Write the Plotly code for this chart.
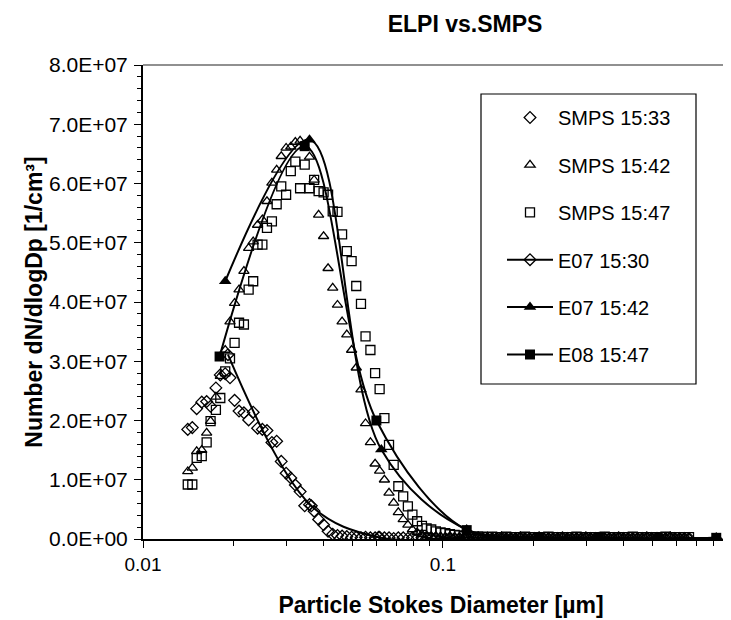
import plotly.graph_objects as go

# SMPS channel midpoint diameters [um]
smps_dp = [
    0.0141, 0.0146, 0.0151, 0.0157, 0.0163, 0.0168, 0.0175, 0.0181, 0.0188, 0.0195,
    0.0202, 0.0209, 0.0217, 0.0225, 0.0233, 0.0241, 0.0250, 0.0259, 0.0269, 0.0279,
    0.0289, 0.0300, 0.0311, 0.0322, 0.0334, 0.0346, 0.0359, 0.0372, 0.0385, 0.0400,
    0.0414, 0.0429, 0.0445, 0.0461, 0.0478, 0.0496, 0.0514, 0.0533, 0.0552, 0.0573,
    0.0594, 0.0615, 0.0638, 0.0661, 0.0685, 0.0710, 0.0737, 0.0764, 0.0791, 0.0820,
    0.0851, 0.0882, 0.0914, 0.0947, 0.0982, 0.1018, 0.1055, 0.1094, 0.1134, 0.1176,
    0.1219, 0.1263, 0.1310, 0.1358, 0.1407, 0.1459, 0.1512, 0.1568, 0.1625, 0.1685,
    0.1747, 0.1811, 0.1877, 0.1946, 0.2017, 0.2091, 0.2167, 0.2247, 0.2329, 0.2414,
    0.2503, 0.2595, 0.2690, 0.2788, 0.2890, 0.2996, 0.3106, 0.3220, 0.3338, 0.3460,
    0.3587, 0.3718, 0.3854, 0.3995, 0.4142, 0.4294, 0.4451, 0.4614, 0.4783, 0.4958,
    0.5140, 0.5328, 0.5523, 0.5725, 0.5935, 0.6153, 0.6378, 0.6612,
]

# SMPS values in units of 1E7 /cm3
smps_1533 = [
    1.85, 1.88, 2.20, 2.31, 2.32, 2.24, 2.55, 2.77, 2.79, 2.72,
    2.34, 2.16, 2.13, 2.01, 2.14, 1.87, 1.85, 1.83, 1.63, 1.65,
    1.31, 1.11, 1.03, 0.91, 0.80, 0.56, 0.58, 0.47, 0.33, 0.24,
    0.13, 0.08, 0.06, 0.05, 0.04, 0.03, 0.03, 0.02, 0.03, 0.02,
    0.02, 0.03, 0.02, 0.02, 0.01, 0.02, 0.02, 0.01, 0.02, 0.01,
    0.02, 0.01, 0.01, 0.02, 0.01, 0.01, 0.02, 0.01, 0.01, 0.01,
    0.01, 0.01, 0.02, 0.01, 0.01, 0.01, 0.01, 0.02, 0.01, 0.01,
    0.01, 0.02, 0.01, 0.01, 0.01, 0.02, 0.01, 0.01, 0.01, 0.01,
    0.02, 0.01, 0.01, 0.01, 0.01, 0.02, 0.01, 0.01, 0.01, 0.01,
    0.01, 0.01, 0.02, 0.01, 0.01, 0.01, 0.01, 0.01, 0.02, 0.01,
    0.01, 0.01, 0.01, 0.02, 0.01, 0.01, 0.01, 0.01,
]
smps_1542 = [
    1.14, 1.20, 1.48, 1.50, 1.79, 1.99, 2.40, 2.75, 3.19, 3.67,
    3.98, 4.21, 4.52, 4.91, 5.02, 5.30, 5.39, 5.70, 6.01, 6.23,
    6.46, 6.60, 6.62, 6.70, 6.72, 6.62, 6.45, 6.06, 5.47, 5.11,
    4.57, 4.24, 3.95, 3.67, 3.45, 3.19, 2.89, 2.52, 1.95, 1.63,
    1.27, 1.15, 1.00, 0.78, 0.61, 0.45, 0.33, 0.24, 0.16, 0.11,
    0.08, 0.06, 0.05, 0.04, 0.04, 0.03, 0.03, 0.03, 0.02, 0.03,
    0.02, 0.02, 0.03, 0.02, 0.02, 0.02, 0.03, 0.02, 0.02, 0.02,
    0.02, 0.03, 0.02, 0.02, 0.02, 0.02, 0.03, 0.02, 0.02, 0.02,
    0.03, 0.02, 0.02, 0.02, 0.02, 0.03, 0.02, 0.02, 0.02, 0.02,
    0.02, 0.02, 0.03, 0.02, 0.02, 0.02, 0.02, 0.02, 0.03, 0.02,
    0.02, 0.02, 0.02, 0.03, 0.02, 0.02, 0.02, 0.02,
]
smps_1547 = [
    0.92, 0.92, 1.37, 1.40, 1.63, 1.99, 2.18, 2.38, 2.83, 3.05,
    3.31, 3.65, 3.62, 4.21, 4.35, 4.97, 4.97, 5.25, 5.36, 5.65,
    5.95, 5.81, 6.21, 6.37, 5.92, 6.32, 5.92, 6.06, 5.87, 5.85,
    5.81, 5.53, 5.52, 5.14, 4.86, 4.69, 4.27, 3.97, 3.42, 3.19,
    2.80, 2.53, 2.04, 1.59, 1.25, 0.89, 0.72, 0.55, 0.41, 0.30,
    0.22, 0.18, 0.16, 0.13, 0.11, 0.10, 0.08, 0.07, 0.06, 0.05,
    0.05, 0.04, 0.04, 0.04, 0.03, 0.04, 0.03, 0.03, 0.04, 0.03,
    0.03, 0.03, 0.04, 0.03, 0.03, 0.03, 0.03, 0.04, 0.03, 0.03,
    0.03, 0.03, 0.03, 0.04, 0.03, 0.03, 0.03, 0.03, 0.03, 0.04,
    0.03, 0.03, 0.03, 0.03, 0.03, 0.04, 0.03, 0.03, 0.03, 0.03,
    0.03, 0.03, 0.04, 0.03, 0.03, 0.03, 0.03, 0.03,
]

# ELPI stage Stokes diameters [um] and values (1E7 /cm3)
elpi_dp_1530 = [0.0192, 0.0364, 0.0610, 0.1200, 0.2100, 0.3300, 0.5200, 0.8150]
elpi_1530 = [3.11, 0.56, 0.03, 0.02, 0.01, 0.01, 0.01, 0.00]
elpi_dp_1542 = [0.0188, 0.0359, 0.0623, 0.1200, 0.2100, 0.3300, 0.5200, 0.8150]
elpi_1542 = [4.35, 6.74, 1.51, 0.16, 0.03, 0.02, 0.01, 0.02]
elpi_dp_1547 = [0.0180, 0.0346, 0.0600, 0.1200, 0.2100, 0.3300, 0.5200, 0.8150]
elpi_1547 = [3.08, 6.63, 2.00, 0.15, 0.03, 0.02, 0.01, 0.02]

scale = 1e7
y_tickvals = [0, 1e7, 2e7, 3e7, 4e7, 5e7, 6e7, 7e7, 8e7]
y_ticktext = ["0.0E+00", "1.0E+07", "2.0E+07", "3.0E+07", "4.0E+07",
              "5.0E+07", "6.0E+07", "7.0E+07", "8.0E+07"]
x_tickvals = [0.01, 0.1, 1]
x_ticktext = ["0.01", "0.1", "1"]
x_minor = [0.02, 0.03, 0.04, 0.05, 0.06, 0.07, 0.08, 0.09,
           0.2, 0.3, 0.4, 0.5, 0.6, 0.7, 0.8, 0.9]

FONT = "Liberation Sans, Arial, sans-serif"
fig = go.Figure()

def sc(vals):
    return [v * scale for v in vals]

smps_marker = dict(color="black", size=9, line=dict(color="black", width=1.3))
fig.add_trace(go.Scatter(x=smps_dp, y=sc(smps_1533), mode="markers", name="SMPS 15:33",
                         legendgroup="a",
                         marker=dict(symbol="diamond-open", **smps_marker)))
fig.add_trace(go.Scatter(x=smps_dp, y=sc(smps_1542), mode="markers", name="SMPS 15:42",
                         legendgroup="b",
                         marker=dict(symbol="triangle-up-open", **smps_marker)))
fig.add_trace(go.Scatter(x=smps_dp, y=sc(smps_1547), mode="markers", name="SMPS 15:47",
                         legendgroup="c",
                         marker=dict(symbol="square-open", **smps_marker)))

fig.add_trace(go.Scatter(x=elpi_dp_1530, y=sc(elpi_1530), mode="lines+markers", name="E07 15:30",
                         legendgroup="d",
                         line=dict(color="black", width=2, shape="spline", smoothing=1),
                         marker=dict(symbol="diamond-open", size=9, color="black",
                                     line=dict(color="black", width=1.3))))
fig.add_trace(go.Scatter(x=elpi_dp_1542, y=sc(elpi_1542), mode="lines+markers", name="E07 15:42",
                         legendgroup="e",
                         line=dict(color="black", width=2, shape="spline", smoothing=1),
                         marker=dict(symbol="triangle-up", size=11, color="black")))
fig.add_trace(go.Scatter(x=elpi_dp_1547, y=sc(elpi_1547), mode="lines+markers", name="E08 15:47",
                         legendgroup="f",
                         line=dict(color="black", width=2, shape="spline", smoothing=1),
                         marker=dict(symbol="square", size=10, color="black")))

L, R, T, B = 135, 0, 57, 89
W, H = 731, 620
pw, ph = W - L - R, H - T - B

def px(x):
    return (x - L) / pw

def py(y):
    return (H - B - y) / ph

fig.update_layout(
    width=W, height=H,
    margin=dict(l=L, r=R, t=T, b=B, autoexpand=False),
    paper_bgcolor="white", plot_bgcolor="white",
    font=dict(family=FONT, color="black", size=19),
    title=dict(text="ELPI vs.SMPS", x=457 / W, xref="container", xanchor="center",
               y=1 - 16 / H, yref="container", yanchor="middle",
               font=dict(size=23, family=FONT, weight="bold", color="black")),
    showlegend=True,
    legend=dict(x=px(494), y=py(90), xanchor="left", yanchor="top",
                bgcolor="rgba(0,0,0,0)", borderwidth=0,
                font=dict(size=20, family=FONT, color="black"),
                tracegroupgap=18.4, itemwidth=46, traceorder="grouped"),
    shapes=[
        dict(type="rect", xref="paper", yref="paper",
             x0=px(473), x1=px(688), y0=py(376), y1=py(86),
             line=dict(color="black", width=1.2), fillcolor="rgba(0,0,0,0)"),
        dict(type="line", xref="paper", yref="paper", x0=0, x1=1, y0=1, y1=1,
             line=dict(color="#222222", width=1.2)),
    ],
)

fig.update_xaxes(
    type="log", range=[-2, -0.013],
    tickmode="array", tickvals=x_tickvals, ticktext=x_ticktext,
    ticks="outside", ticklen=7, tickwidth=1.2, tickcolor="black",
    ticklabelstandoff=0,
    minor=dict(tickmode="array", tickvals=x_minor, ticks="outside", ticklen=5,
               tickwidth=1, tickcolor="black", showgrid=False),
    showline=True, linecolor="black", linewidth=2,
    showgrid=False, zeroline=False,
    tickfont=dict(size=19, family=FONT, color="black"),
    title=dict(text="Particle Stokes Diameter [µm]", standoff=23,
               font=dict(size=23, family=FONT, weight="bold", color="black")),
)
fig.update_yaxes(
    range=[0, 8e7],
    tickmode="array", tickvals=y_tickvals, ticktext=y_ticktext,
    ticks="outside", ticklen=7, tickwidth=1.2, tickcolor="black",
    ticklabelstandoff=2,
    minor=dict(dtick=2e6, ticks="outside", ticklen=4, tickwidth=1,
               tickcolor="black", showgrid=False),
    showline=True, linecolor="black", linewidth=2,
    showgrid=False, zeroline=False,
    tickfont=dict(size=21, family=FONT, color="black"),
    title=dict(text="Number dN/dlogDp [1/cm³]", standoff=0,
               font=dict(size=23, family=FONT, weight="bold", color="black")),
)

fig.write_html("out.html")
